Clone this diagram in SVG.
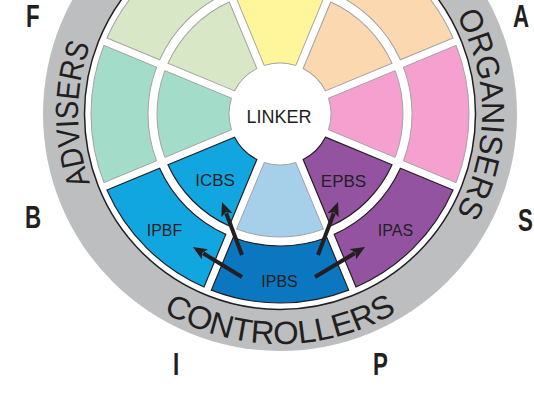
<svg xmlns="http://www.w3.org/2000/svg" width="534" height="402" viewBox="0 0 534 402">
<defs>
<style>
.sp{stroke:#a3a3a3;stroke-width:1}
.sd{stroke:#231f20;stroke-width:1.2}
.lbl{font-family:"Liberation Sans",Arial,sans-serif;fill:#231f20;text-anchor:middle}
.ring{font-family:"Liberation Sans",Arial,sans-serif;font-size:32px;fill:#231f20}
.corner{font-family:"Liberation Sans",Arial,sans-serif;font-weight:bold;font-size:31px;fill:#231f20}
.arrow{stroke:#231f20;stroke-width:4;fill:none;marker-end:url(#ah)}
</style>
<path id="inner" d="M48.50,-15.76 L115.11,-43.36 A123,123 0 0 1 115.11,43.36 L48.50,15.76 A51,51 0 0 0 48.50,-15.76 Z"/>
<path id="outer" d="M123.45,-46.79 L176.11,-68.63 A189,189 0 0 1 176.11,68.63 L123.45,46.79 A132,132 0 0 0 123.45,-46.79 Z"/>
<marker id="ah" viewBox="0 0 14 12" refX="2" refY="6" markerWidth="14" markerHeight="12" markerUnits="userSpaceOnUse" orient="auto"><path d="M0,0 L14,6 L0,12 L3,6 Z" fill="#231f20"/></marker>
<path id="pA" d="M105.06,215 A202,202 0 0 1 105.06,13"/>
<path id="pO" d="M454.94,13 A202,202 0 0 1 454.94,215"/>
<path id="pC" d="M132.16,290.19 A230,230 0 0 0 427.84,290.19"/>
</defs>
<rect width="534" height="402" fill="#ffffff"/>
<g id="ring">
<circle cx="280" cy="114" r="237" fill="#bcbec0"/>
<circle cx="280" cy="114" r="195.5" fill="#ffffff" stroke="#231f20" stroke-width="1.5"/>
<text class="ring" textLength="141" lengthAdjust="spacingAndGlyphs"><textPath href="#pA" startOffset="50%" text-anchor="middle">ADVISERS</textPath></text>
<text class="ring" textLength="206" lengthAdjust="spacingAndGlyphs"><textPath href="#pO" startOffset="50%" text-anchor="middle">ORGANISERS</textPath></text>
<text class="ring" textLength="245" lengthAdjust="spacingAndGlyphs"><textPath href="#pC" startOffset="50%" text-anchor="middle">CONTROLLERS</textPath></text>
</g>
<g id="seg-right-inner"><use href="#inner" class="sp" fill="#f5a0cf" transform="translate(280,114) rotate(0)"/></g>
<g id="seg-right-outer"><use href="#outer" class="sp" fill="#f5a0cf" transform="translate(280,114) rotate(0)"/></g>
<g id="seg-upperright-inner"><use href="#inner" class="sp" fill="#fcd8b0" transform="translate(280,114) rotate(315)"/></g>
<g id="seg-upperright-outer"><use href="#outer" class="sp" fill="#fcd8b0" transform="translate(280,114) rotate(315)"/></g>
<g id="seg-top-inner"><use href="#inner" class="sp" fill="#fff69b" transform="translate(280,114) rotate(270)"/></g>
<g id="seg-top-outer"><use href="#outer" class="sp" fill="#fff69b" transform="translate(280,114) rotate(270)"/></g>
<g id="seg-upperleft-inner"><use href="#inner" class="sp" fill="#d8e8c6" transform="translate(280,114) rotate(225)"/></g>
<g id="seg-upperleft-outer"><use href="#outer" class="sp" fill="#d8e8c6" transform="translate(280,114) rotate(225)"/></g>
<g id="seg-left-inner"><use href="#inner" class="sp" fill="#a3dcc9" transform="translate(280,114) rotate(180)"/></g>
<g id="seg-left-outer"><use href="#outer" class="sp" fill="#a3dcc9" transform="translate(280,114) rotate(180)"/></g>
<g id="seg-bottom-inner"><use href="#inner" class="sp" fill="#a6cfea" transform="translate(280,114) rotate(90)"/></g>
<g id="icbs"><use href="#inner" class="sd" fill="#12a6e1" transform="translate(280,114) rotate(135)"/><text class="lbl" x="215" y="186" font-size="17">ICBS</text></g>
<g id="ipbf"><use href="#outer" class="sd" fill="#12a6e1" transform="translate(280,114) rotate(135)"/><text class="lbl" x="164.5" y="236" font-size="16">IPBF</text></g>
<g id="ipbs"><use href="#outer" class="sd" fill="#0b77c0" transform="translate(280,114) rotate(90)"/><text class="lbl" x="279.5" y="287" font-size="16">IPBS</text></g>
<g id="epbs"><use href="#inner" class="sd" fill="#9453a1" transform="translate(280,114) rotate(45)"/><text class="lbl" x="343.5" y="187" font-size="17">EPBS</text></g>
<g id="ipas"><use href="#outer" class="sd" fill="#9453a1" transform="translate(280,114) rotate(45)"/><text class="lbl" x="395.5" y="236" font-size="16">IPAS</text></g>
<g id="linker"><text class="lbl" x="279" y="123" font-size="18">LINKER</text></g>
<g id="connectors">
<line class="arrow" x1="242" y1="255" x2="226.2" y2="213.2"/>
<line class="arrow" x1="242" y1="277" x2="203.2" y2="253.3"/>
<line class="arrow" x1="318" y1="255" x2="333.8" y2="213.2"/>
<line class="arrow" x1="315" y1="277" x2="354.7" y2="253.2"/>
</g>
<g id="corners">
<text class="corner" transform="translate(26,27) scale(0.72,1)">F</text>
<text class="corner" transform="translate(513,27) scale(0.72,1)">A</text>
<text class="corner" transform="translate(25,228) scale(0.72,1)">B</text>
<text class="corner" transform="translate(518,231) scale(0.72,1)">S</text>
<text class="corner" transform="translate(173,375) scale(0.72,1)">I</text>
<text class="corner" transform="translate(373,375) scale(0.72,1)">P</text>
</g>
</svg>
